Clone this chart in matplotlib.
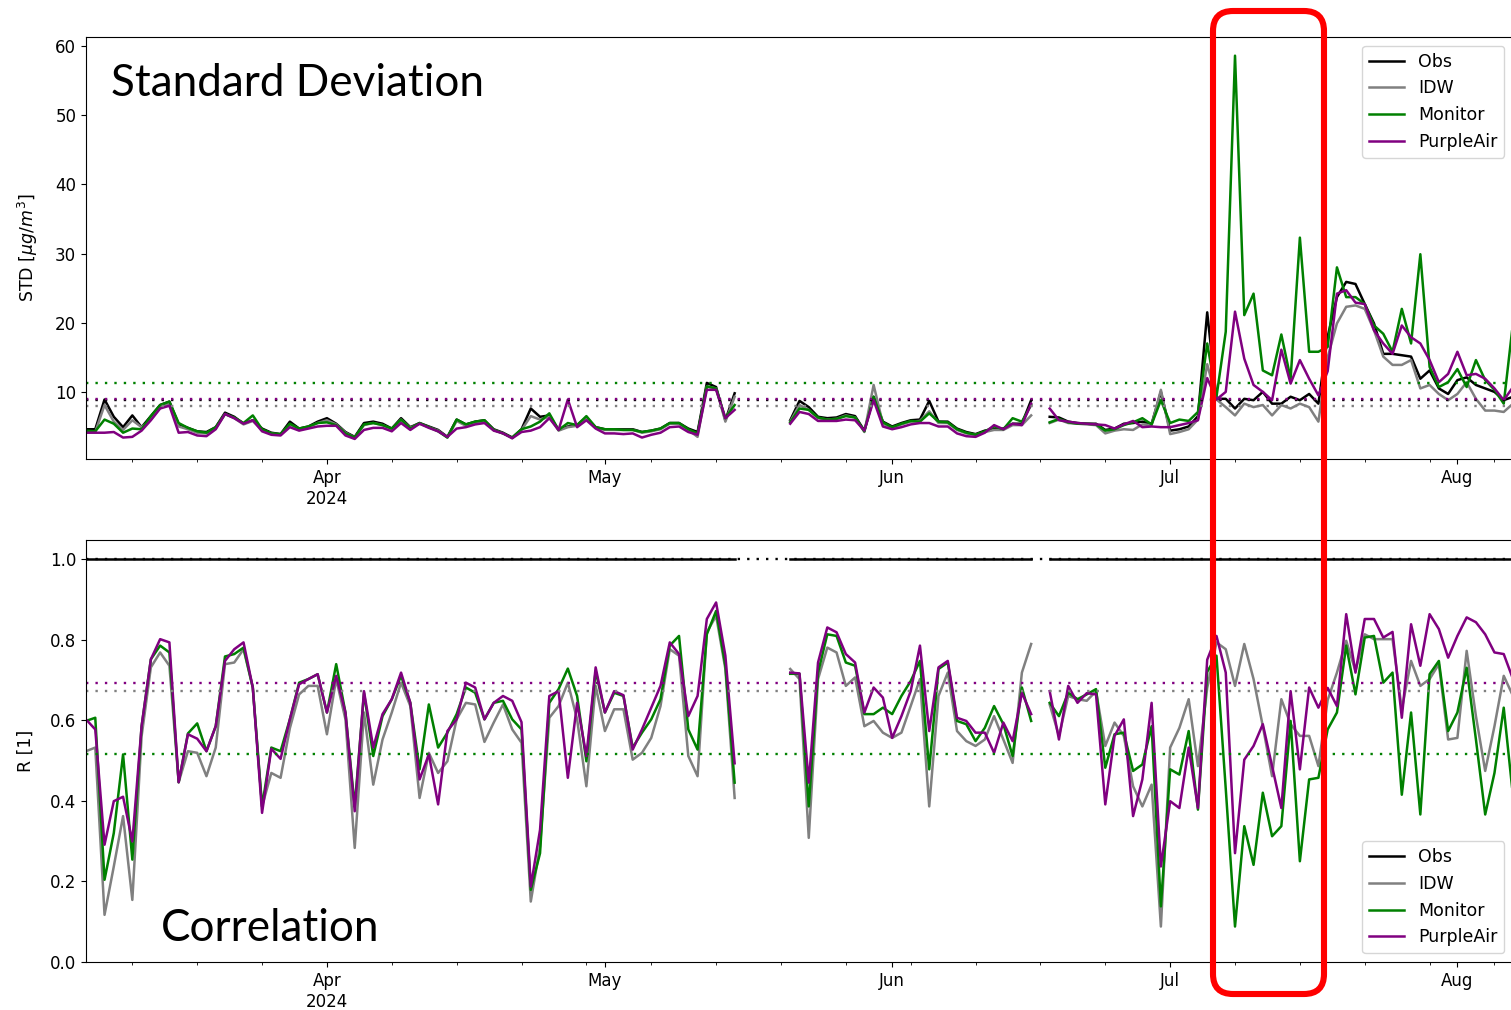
import numpy as np
import matplotlib
matplotlib.use('Agg')
import matplotlib.pyplot as plt
import matplotlib.dates as mdates
from matplotlib.patches import FancyBboxPatch

N = None  # missing day

# daily dates, 6 Mar - 7 Aug 2024
dates = np.arange('2024-03-06', '2024-08-08', dtype='datetime64[D]')

series_names = ['Obs', 'IDW', 'Monitor', 'PurpleAir']
series_colors = ['black', 'gray', 'green', 'purple']

# Standard deviation [ug/m3]
std_obs = [4.6, 4.6, 8.9, 6.4, 4.9, 6.6, 4.9, 6.5, 8.1, 8.6,
           5.3, 4.8, 4.3, 4.2, 4.9, 7.0, 6.4, 5.4, 5.9, 4.7,
           4.1, 3.9, 5.7, 4.7, 5.0, 5.7, 6.2, 5.4, 4.2, 3.5,
           5.5, 5.7, 5.4, 4.7, 6.2, 4.9, 5.5, 5.0, 4.5, 3.5,
           6.0, 5.3, 5.7, 5.9, 4.6, 4.1, 3.4, 4.6, 7.6, 6.4,
           6.6, 4.5, 5.0, 5.2, 6.3, 4.9, 4.6, 4.6, 4.6, 4.6,
           4.2, 4.4, 4.7, 5.5, 5.5, 4.7, 4.2, 11.3, 10.7, 5.9,
           9.8, N, N, N, N, N, 5.9, 8.7, 7.8, 6.4,
           6.2, 6.3, 6.8, 6.5, 4.4, 9.3, 5.7, 5.0, 5.5, 5.9,
           6.0, 8.7, 5.7, 5.7, 4.7, 4.2, 3.9, 4.4, 4.6, 4.7,
           5.4, 5.4, 8.8, N, 6.4, 6.3, 5.7, 5.5, 5.4, 5.4,
           4.5, 4.7, 5.4, 5.5, 5.7, 5.4, 10.0, 4.4, 4.6, 5.0,
           6.5, 21.5, 9.0, 9.0, 7.6, 9.0, 8.8, 10.0, 8.3, 8.3,
           9.3, 8.8, 9.7, 8.3, 18.0, 23.7, 25.9, 25.6, 22.7, 19.9,
           15.5, 15.5, 15.3, 15.1, 11.9, 13.1, 10.5, 9.7, 11.7, 12.1,
           11.0, 10.5, 10.0, 8.8, 9.3]
std_idw = [4.3, 4.2, 8.1, 5.7, 4.5, 5.9, 4.9, 6.0, 7.7, 8.3,
           5.0, 4.6, 4.1, 4.0, 4.7, 6.8, 6.2, 5.3, 5.8, 4.5,
           4.0, 3.8, 5.3, 4.6, 4.9, 5.5, 5.9, 5.3, 4.1, 3.4,
           5.2, 5.5, 5.2, 4.6, 6.0, 4.8, 5.4, 4.9, 4.4, 3.4,
           5.8, 5.1, 5.5, 5.7, 4.5, 4.0, 3.3, 4.5, 6.5, 6.0,
           6.4, 4.4, 4.9, 5.1, 6.2, 4.8, 4.5, 4.5, 4.5, 4.5,
           4.1, 4.3, 4.6, 5.4, 5.4, 4.5, 3.5, 10.8, 10.5, 5.7,
           9.3, N, N, N, N, N, 5.7, 8.1, 7.4, 6.2,
           6.0, 6.1, 6.6, 6.3, 4.2, 11.0, 5.4, 4.8, 5.3, 5.7,
           5.8, 7.2, 5.5, 5.5, 4.5, 4.0, 3.8, 4.2, 4.5, 4.5,
           5.2, 5.2, 6.6, N, 5.5, 6.0, 5.5, 5.4, 5.3, 5.2,
           4.0, 4.4, 4.6, 4.5, 5.3, 5.2, 10.3, 3.9, 4.2, 4.6,
           6.0, 14.0, 8.9, 7.8, 6.6, 8.3, 7.8, 8.1, 6.6, 8.1,
           7.6, 8.3, 7.8, 5.7, 15.0, 19.9, 22.3, 22.5, 22.0, 18.9,
           15.1, 13.9, 13.9, 14.6, 10.5, 11.0, 9.7, 8.8, 9.7, 11.4,
           9.0, 7.3, 7.3, 7.1, 8.3]
std_monitor = [4.4, 4.3, 6.0, 5.4, 4.1, 4.7, 4.6, 6.5, 8.1, 8.6,
               5.5, 4.8, 4.3, 4.1, 4.9, 6.8, 6.3, 5.5, 6.6, 4.6,
               4.0, 3.9, 5.4, 4.7, 5.0, 5.5, 5.6, 5.2, 4.0, 3.4,
               5.3, 5.5, 5.2, 4.7, 6.0, 4.7, 5.5, 4.9, 4.3, 3.4,
               6.0, 5.3, 5.7, 5.9, 4.5, 4.0, 3.4, 4.6, 5.0, 5.7,
               6.9, 4.5, 5.5, 5.2, 6.5, 4.9, 4.6, 4.6, 4.5, 4.5,
               4.2, 4.4, 4.7, 5.5, 5.5, 4.6, 4.0, 10.8, 10.5, 6.2,
               8.1, N, N, N, N, N, 5.6, 7.6, 7.4, 6.3,
               6.0, 6.1, 6.5, 6.3, 4.3, 9.3, 5.6, 4.9, 5.4, 5.8,
               5.7, 6.9, 5.7, 5.6, 4.6, 4.1, 3.8, 4.3, 5.0, 4.6,
               6.2, 5.7, 8.1, N, 5.6, 6.1, 5.6, 5.4, 5.4, 5.3,
               4.4, 4.6, 5.2, 5.6, 6.2, 5.3, 8.8, 5.5, 6.0, 5.8,
               7.1, 17.0, 9.3, 18.7, 58.6, 21.1, 24.2, 13.1, 12.4, 18.3,
               11.9, 32.3, 15.8, 15.8, 16.5, 28.0, 23.7, 23.7, 22.7, 19.6,
               18.4, 15.8, 22.0, 17.0, 29.9, 13.6, 10.7, 11.4, 13.3, 10.7,
               14.6, 11.7, 10.3, 8.3, 20.0]
std_purpleair = [4.1, 4.1, 4.1, 4.2, 3.4, 3.5, 4.4, 5.9, 7.6, 8.0,
                 4.1, 4.2, 3.7, 3.6, 4.6, 6.8, 6.2, 5.4, 5.9, 4.3,
                 3.8, 3.7, 4.9, 4.4, 4.7, 5.0, 5.1, 5.1, 3.7, 3.2,
                 4.5, 4.8, 4.8, 4.3, 5.5, 4.5, 5.4, 4.8, 4.3, 3.5,
                 4.7, 4.9, 5.3, 5.5, 4.4, 4.0, 3.3, 4.2, 4.4, 4.9,
                 6.2, 4.5, 8.9, 4.9, 5.9, 4.7, 4.0, 4.0, 3.9, 4.0,
                 3.4, 3.8, 4.1, 4.9, 5.0, 4.2, 3.8, 10.3, 10.3, 6.2,
                 7.4, N, N, N, N, N, 5.4, 7.1, 6.8, 5.8,
                 5.8, 5.8, 6.0, 5.9, 4.4, 8.8, 5.0, 4.6, 4.9, 5.3,
                 5.5, 5.5, 5.0, 5.0, 4.0, 3.6, 3.5, 4.1, 5.2, 4.6,
                 5.4, 5.2, 8.3, N, 7.6, 5.9, 5.7, 5.5, 5.4, 5.3,
                 5.2, 4.7, 5.3, 5.8, 4.9, 5.0, 4.9, 4.9, 5.2, 5.5,
                 5.9, 12.0, 8.9, 10.0, 21.6, 14.8, 11.0, 10.0, 8.8, 16.1,
                 11.2, 14.6, 11.9, 9.5, 13.0, 24.2, 24.7, 22.9, 22.7, 18.9,
                 17.0, 15.5, 19.6, 17.9, 17.0, 14.6, 11.4, 12.6, 15.8, 12.4,
                 12.6, 11.9, 10.5, 8.8, 10.7]
std_mean = [8.85, 7.9, 11.3, 8.95]

# Correlation R [1]
r_idw = [0.523, 0.532, 0.117, 0.237, 0.362, 0.154, 0.560, 0.731, 0.768, 0.735,
         0.446, 0.523, 0.519, 0.461, 0.532, 0.739, 0.743, 0.776, 0.681, 0.386,
         0.469, 0.457, 0.580, 0.664, 0.685, 0.685, 0.565, 0.702, 0.602, 0.283,
         0.619, 0.440, 0.552, 0.619, 0.693, 0.635, 0.407, 0.519, 0.469, 0.498,
         0.602, 0.643, 0.639, 0.546, 0.594, 0.639, 0.577, 0.544, 0.150, 0.287,
         0.606, 0.635, 0.693, 0.602, 0.436, 0.685, 0.573, 0.627, 0.627, 0.502,
         0.519, 0.556, 0.635, 0.776, 0.760, 0.511, 0.461, 0.818, 0.859, 0.727,
         0.407, N, N, N, N, N, 0.727, 0.702, 0.308, 0.702,
         0.780, 0.768, 0.685, 0.706, 0.585, 0.598, 0.569, 0.556, 0.569, 0.635,
         0.702, 0.386, 0.660, 0.718, 0.573, 0.548, 0.536, 0.552, 0.610, 0.552,
         0.494, 0.718, 0.789, N, 0.639, 0.561, 0.660, 0.652, 0.648, 0.672,
         0.536, 0.594, 0.561, 0.436, 0.386, 0.440, 0.088, 0.532, 0.581, 0.652,
         0.486, 0.680, 0.793, 0.776, 0.685, 0.789, 0.702, 0.585, 0.461, 0.652,
         0.590, 0.561, 0.561, 0.486, 0.650, 0.718, 0.797, 0.722, 0.813, 0.801,
         0.801, 0.801, 0.627, 0.747, 0.685, 0.702, 0.739, 0.552, 0.556, 0.772,
         0.610, 0.474, 0.585, 0.710, 0.660]
r_monitor = [0.598, 0.606, 0.204, 0.320, 0.515, 0.254, 0.585, 0.751, 0.785, 0.768,
             0.446, 0.567, 0.592, 0.523, 0.585, 0.758, 0.764, 0.780, 0.681, 0.386,
             0.532, 0.523, 0.602, 0.693, 0.702, 0.714, 0.619, 0.739, 0.619, 0.386,
             0.668, 0.511, 0.610, 0.652, 0.710, 0.643, 0.478, 0.639, 0.532, 0.569,
             0.615, 0.681, 0.668, 0.602, 0.643, 0.648, 0.602, 0.577, 0.179, 0.270,
             0.643, 0.677, 0.728, 0.660, 0.498, 0.722, 0.619, 0.668, 0.660, 0.532,
             0.569, 0.602, 0.652, 0.785, 0.809, 0.577, 0.527, 0.813, 0.871, 0.735,
             0.445, N, N, N, N, N, 0.715, 0.715, 0.386, 0.718,
             0.813, 0.809, 0.743, 0.735, 0.615, 0.615, 0.631, 0.615, 0.660, 0.697,
             0.747, 0.478, 0.727, 0.743, 0.598, 0.590, 0.548, 0.581, 0.635, 0.590,
             0.511, 0.681, 0.598, N, 0.643, 0.610, 0.668, 0.652, 0.664, 0.677,
             0.482, 0.565, 0.569, 0.474, 0.490, 0.585, 0.138, 0.478, 0.465, 0.573,
             0.378, 0.720, 0.760, 0.430, 0.088, 0.337, 0.241, 0.420, 0.312, 0.337,
             0.598, 0.250, 0.453, 0.457, 0.577, 0.619, 0.785, 0.664, 0.805, 0.809,
             0.693, 0.718, 0.415, 0.619, 0.366, 0.714, 0.747, 0.573, 0.619, 0.730,
             0.552, 0.366, 0.469, 0.631, 0.411]
r_purpleair = [0.602, 0.577, 0.291, 0.399, 0.410, 0.299, 0.585, 0.751, 0.801, 0.793,
               0.446, 0.565, 0.554, 0.523, 0.585, 0.747, 0.776, 0.793, 0.681, 0.370,
               0.529, 0.504, 0.602, 0.689, 0.702, 0.714, 0.619, 0.710, 0.619, 0.374,
               0.672, 0.532, 0.615, 0.652, 0.718, 0.643, 0.453, 0.515, 0.391, 0.573,
               0.602, 0.693, 0.681, 0.602, 0.643, 0.660, 0.648, 0.595, 0.187, 0.328,
               0.660, 0.672, 0.457, 0.643, 0.511, 0.731, 0.619, 0.672, 0.662, 0.527,
               0.577, 0.631, 0.685, 0.793, 0.764, 0.610, 0.660, 0.851, 0.892, 0.760,
               0.493, N, N, N, N, N, 0.718, 0.716, 0.445, 0.743,
               0.830, 0.818, 0.764, 0.743, 0.619, 0.681, 0.656, 0.556, 0.610, 0.672,
               0.785, 0.573, 0.731, 0.747, 0.606, 0.598, 0.569, 0.569, 0.519, 0.594,
               0.548, 0.668, 0.615, N, 0.672, 0.552, 0.685, 0.643, 0.667, 0.664,
               0.391, 0.561, 0.602, 0.362, 0.453, 0.643, 0.237, 0.399, 0.382, 0.532,
               0.382, 0.750, 0.809, 0.718, 0.270, 0.502, 0.536, 0.590, 0.486, 0.382,
               0.672, 0.478, 0.681, 0.631, 0.680, 0.635, 0.863, 0.718, 0.851, 0.851,
               0.805, 0.819, 0.606, 0.838, 0.735, 0.863, 0.826, 0.755, 0.809, 0.855,
               0.843, 0.813, 0.768, 0.764, 0.702]
r_mean = [1.0, 0.673, 0.517, 0.692]

month_ticks = np.array(['2024-04-01', '2024-05-01', '2024-06-01',
                        '2024-07-01', '2024-08-01'], dtype='datetime64[D]')
month_labels = ['Apr\n2024', 'May', 'Jun', 'Jul', 'Aug']

# Obs correlates perfectly with itself wherever it has data
std_obs = np.array(std_obs, dtype=float)
r_obs = np.where(np.isnan(std_obs), np.nan, 1.0)

std_data = [std_obs, std_idw, std_monitor, std_purpleair]
r_data = [r_obs, r_idw, r_monitor, r_purpleair]

W, H = 1511, 1010
fig = plt.figure(figsize=(W / 100, H / 100), dpi=100)
ax1 = fig.add_axes([86 / W, 1 - 459 / H, (1513 - 86) / W, (459 - 37) / H])
ax2 = fig.add_axes([86 / W, 1 - 962 / H, (1513 - 86) / W, (962 - 540) / H])

def draw_panel(ax, data, means, ylabel, legend_loc):
    for vals, name, col in zip(data, series_names, series_colors):
        ax.plot(dates, np.array(vals, dtype=float), color=col, lw=1.8, label=name)
    for m, col in zip(means, series_colors):
        ax.axhline(m, color=col, lw=1.7, linestyle=(0, (1, 3)))
    ax.set_xlim(dates[0], dates[-1])
    ax.set_xticks(month_ticks, month_labels)
    ax.xaxis.set_minor_locator(mdates.WeekdayLocator(byweekday=mdates.MO))
    ax.tick_params(labelsize=12)
    ax.set_ylabel(ylabel, fontsize=12.5, labelpad=11)
    ax.legend(loc=legend_loc, fontsize=12.5)

draw_panel(ax1, std_data, std_mean, r'STD [$\mu g/m^3$]', 'upper right')
ax1.set_ylim(0.3, 61.3)
ax1.set_yticks([10, 20, 30, 40, 50, 60])

draw_panel(ax2, r_data, r_mean, 'R [1]', 'lower right')
ax2.set_ylim(0, 1.047)
ax2.set_yticks([0.0, 0.2, 0.4, 0.6, 0.8, 1.0])

fig.text(111 / W, 1 - 96 / H, 'Standard Deviation', fontsize=31.7,
         family='Lato', ha='left', va='baseline')
fig.text(161 / W, 1 - 941 / H, 'Correlation', fontsize=31.7,
         family='Lato', ha='left', va='baseline')

# red highlight box around the July episode
box = FancyBboxPatch((12.13, 0.16), 1.11, 9.83,
                     boxstyle='round,pad=0,rounding_size=0.2',
                     transform=fig.dpi_scale_trans, lw=4.4,
                     ec='#ff0000', fc='none', zorder=10)
fig.add_artist(box)

fig.savefig('out.png', dpi=100)
